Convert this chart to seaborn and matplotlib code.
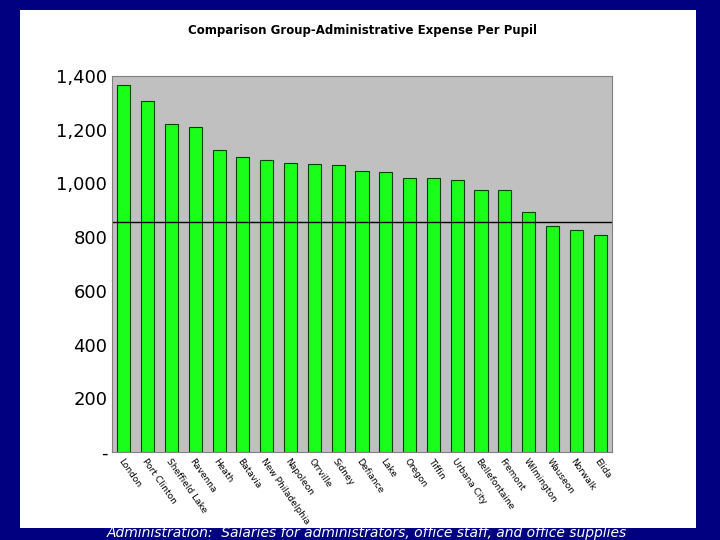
import matplotlib
matplotlib.use("Agg")
import matplotlib.pyplot as plt
import seaborn as sns
import pandas as pd

districts = ["London", "Port Clinton", "Sheffield Lake", "Ravenna", "Heath", "Batavia",
             "New Philadelphia", "Napoleon", "Orrville", "Sidney", "Defiance", "Lake",
             "Oregon", "Tiffin", "Urbana City", "Bellefontaine", "Fremont", "Wilmington",
             "Wauseon", "Norwalk", "Elida"]
expense = [1366, 1307, 1221, 1210, 1124, 1098, 1087, 1076, 1072, 1068, 1046, 1042,
           1020, 1020, 1013, 975, 975, 893, 841, 826, 808]
average = 856

df = pd.DataFrame({"district": districts, "expense": expense})

fig = plt.figure(figsize=(7.2, 5.4), dpi=100)
fig.patch.set_facecolor("#000080")
bg = fig.add_axes([20/720, 12/540, 676/720, 518/540], zorder=0)
bg.set_facecolor("white")
bg.set_xticks([]); bg.set_yticks([])
for s in bg.spines.values():
    s.set_visible(False)
ax = fig.add_axes([112/720, 88/540, 500/720, 376/540], zorder=1)
ax.set_facecolor("#c0c0c0")
sns.barplot(data=df, x="district", y="expense", color="#1aff1a", saturation=1,
            edgecolor="#004400", linewidth=0.8, width=0.55, ax=ax)
ax.axhline(average, color="black", linewidth=1)
ax.set_ylim(0, 1400)
ax.set_yticks(range(0, 1401, 200))
ax.set_yticklabels(["-"] + [f"{v:,}" for v in range(200, 1401, 200)], fontsize=13)
ax.set_xticks(range(len(districts)))
ax.set_xticklabels(districts, rotation=-55, ha="left", rotation_mode="anchor", fontsize=6.5)
ax.tick_params(length=0)
ax.set_xlabel("")
ax.set_ylabel("")
for s in ax.spines.values():
    s.set_color("#808080")
ax.set_title("Comparison Group-Administrative Expense Per Pupil", fontsize=8.5,
             fontweight="bold", pad=30)
fig.text(0.51, 0.013, "Administration:  Salaries for administrators, office staff, and office supplies",
         color="white", style="italic", fontsize=10, ha="center", va="center", zorder=5)
fig.savefig("out.png", dpi=100, facecolor=fig.get_facecolor())
